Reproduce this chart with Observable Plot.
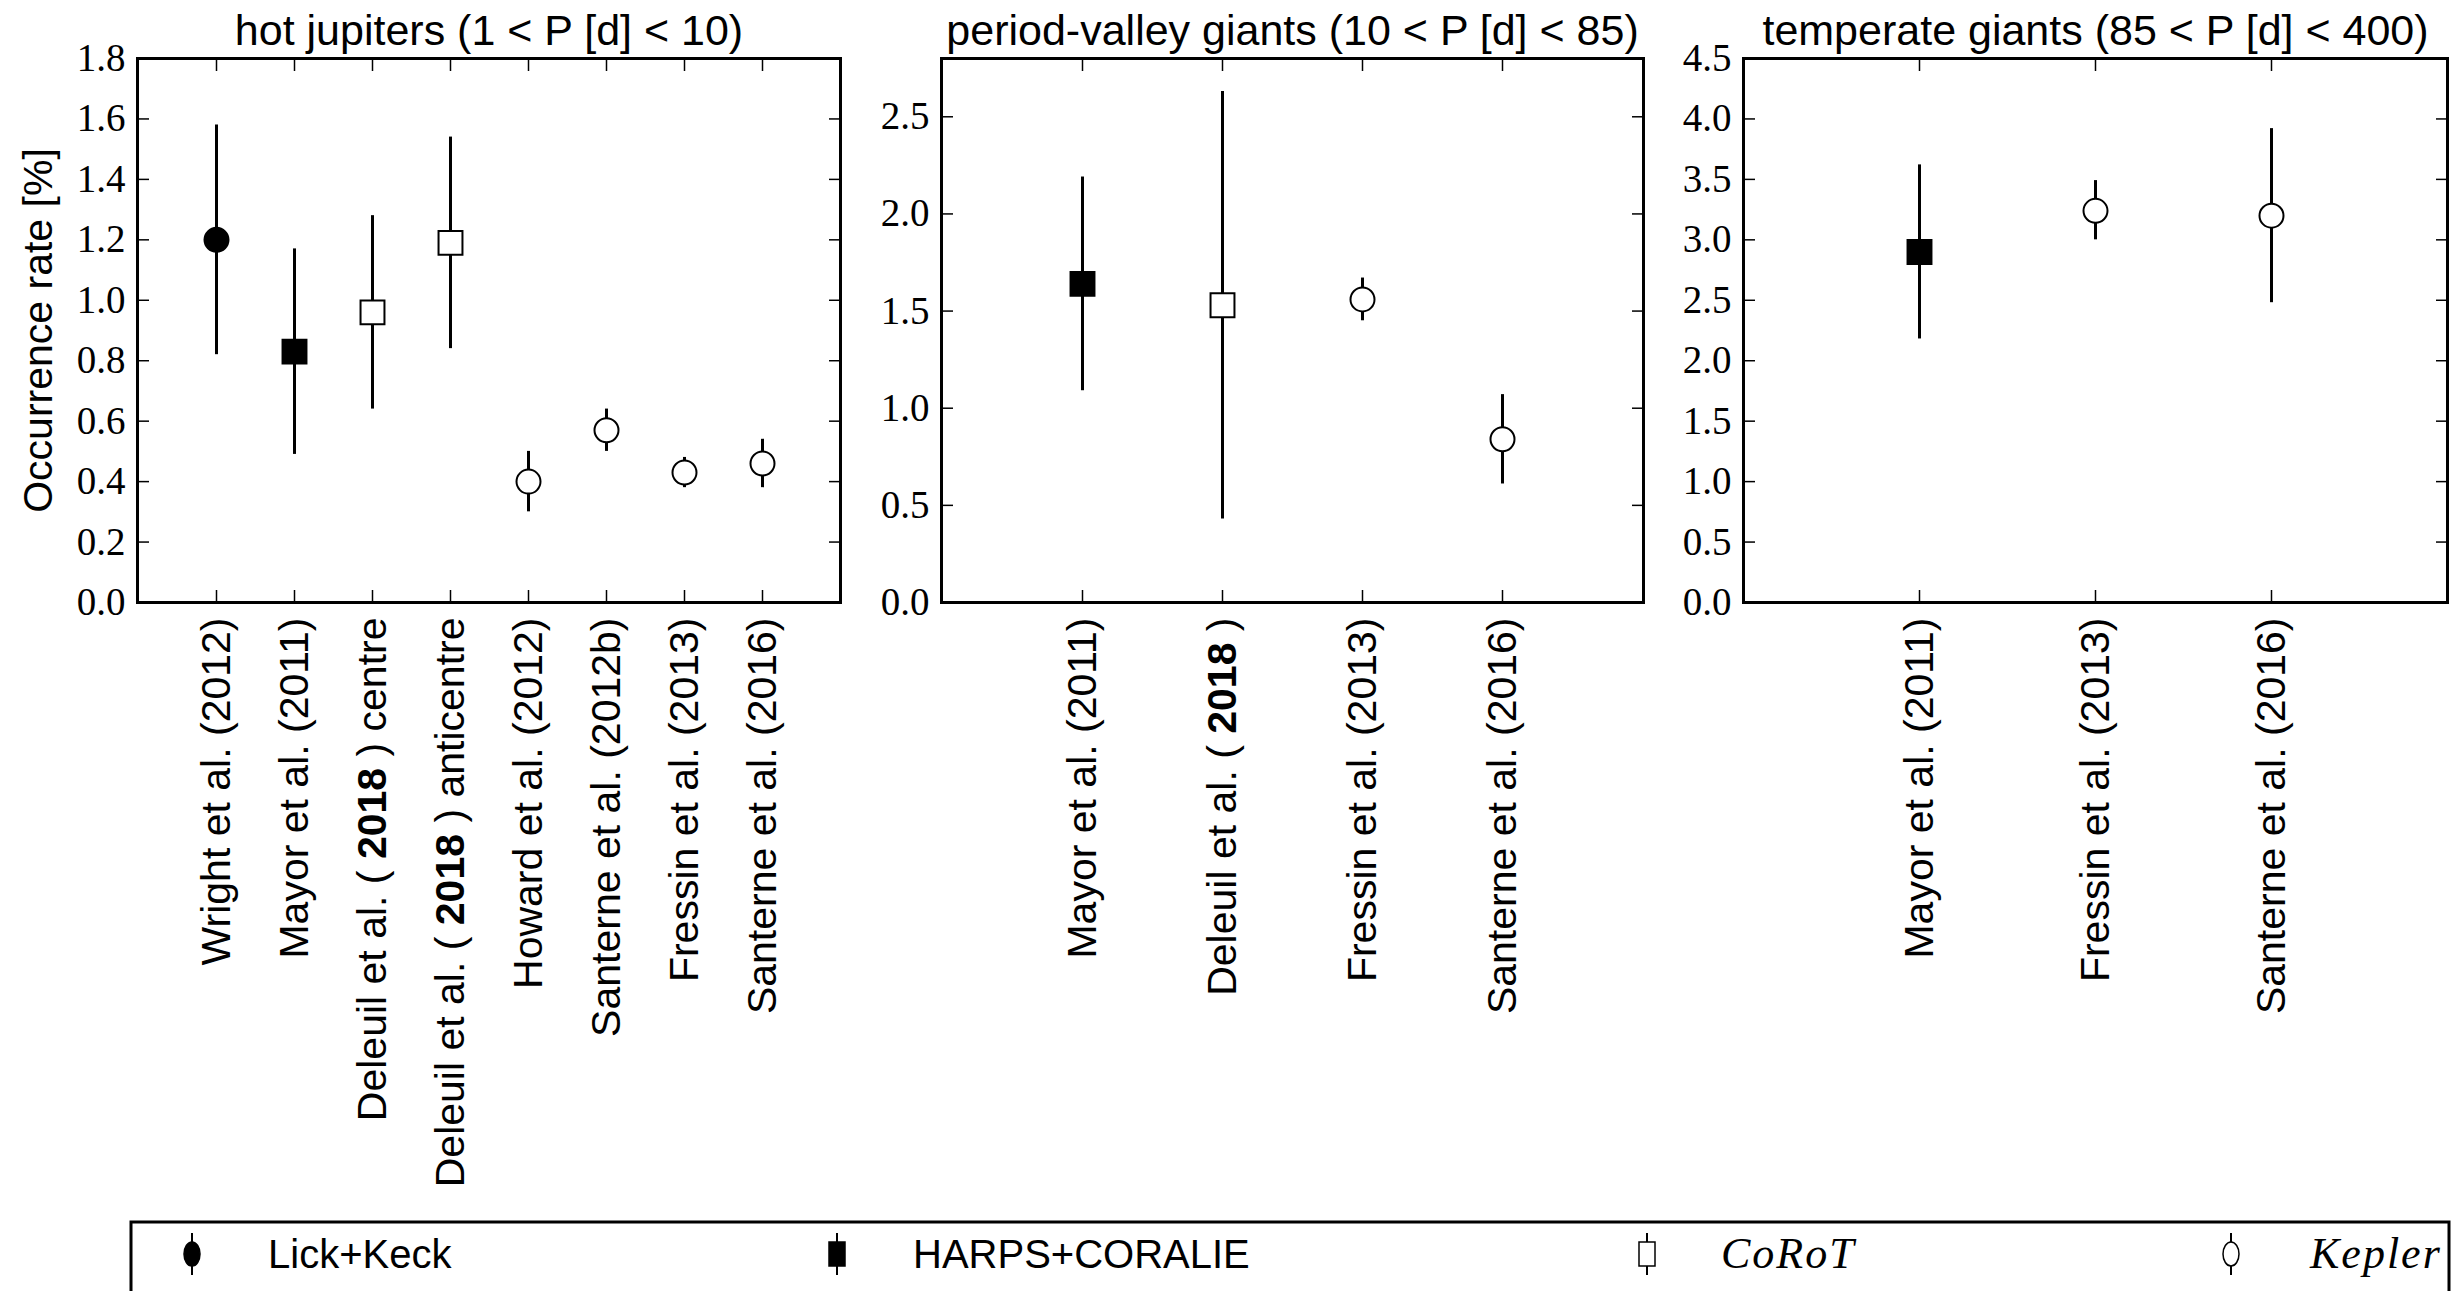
<!DOCTYPE html>
<html><head><meta charset="utf-8">
<script src="https://cdn.jsdelivr.net/npm/d3@7"></script>
<script src="https://cdn.jsdelivr.net/npm/@observablehq/plot@0.6"></script>
<style>
body{margin:0;background:#fff;}
#wrap{position:relative;width:2457px;height:1291px;overflow:hidden;background:#fff;}
#wrap > svg{position:absolute;top:0;margin:0;}
g[aria-label="y-axis tick label"]{font-family:"Liberation Serif","DejaVu Serif",serif;font-size:39px;}
</style></head><body><div id="wrap"></div>
<script>
// ---- data ----
const sources = ["Lick+Keck", "HARPS+CORALIE", "CoRoT", "Kepler"];
const sourceSymbol = ["circle", "square", "square", "circle"];
const sourceFill = ["black", "black", "white", "white"];

const hotTitle = "hot jupiters (1 < P [d] < 10)";
const hotLabels = ["Wright et al. (2012)", "Mayor et al. (2011)", "Deleuil et al. (2018) centre", "Deleuil et al. (2018) anticentre", "Howard et al. (2012)", "Santerne et al. (2012b)", "Fressin et al. (2013)", "Santerne et al. (2016)"];
const hotValues = [1.20, 0.83, 0.96, 1.19, 0.40, 0.57, 0.43, 0.46];
const hotLow    = [0.82, 0.49, 0.64, 0.84, 0.30, 0.50, 0.38, 0.38];
const hotHigh   = [1.58, 1.17, 1.28, 1.54, 0.50, 0.64, 0.48, 0.54];
const hotSource = ["Lick+Keck", "HARPS+CORALIE", "CoRoT", "CoRoT", "Kepler", "Kepler", "Kepler", "Kepler"];
const hotYTicks = [0, 0.2, 0.4, 0.6, 0.8, 1.0, 1.2, 1.4, 1.6, 1.8];

const pvTitle = "period-valley giants (10 < P [d] < 85)";
const pvLabels = ["Mayor et al. (2011)", "Deleuil et al. (2018)", "Fressin et al. (2013)", "Santerne et al. (2016)"];
const pvValues = [1.64, 1.53, 1.56, 0.84];
const pvLow    = [1.09, 0.43, 1.45, 0.61];
const pvHigh   = [2.19, 2.63, 1.67, 1.07];
const pvSource = ["HARPS+CORALIE", "CoRoT", "Kepler", "Kepler"];
const pvYTicks = [0, 0.5, 1.0, 1.5, 2.0, 2.5];

const tgTitle = "temperate giants (85 < P [d] < 400)";
const tgLabels = ["Mayor et al. (2011)", "Fressin et al. (2013)", "Santerne et al. (2016)"];
const tgValues = [2.90, 3.24, 3.20];
const tgLow    = [2.18, 3.00, 2.48];
const tgHigh   = [3.62, 3.49, 3.92];
const tgSource = ["HARPS+CORALIE", "Kepler", "Kepler"];
const tgYTicks = [0, 0.5, 1.0, 1.5, 2.0, 2.5, 3.0, 3.5, 4.0, 4.5];

const yLabel = "Occurrence rate [%]";

// ---- drawing ----
const wrap = document.getElementById("wrap");
const FRAME_TOP = 58, FRAME_BOTTOM = 602, H = 1200;

function panel({title, labels, values, lows, highs, src, yMax, yTicks, left, width, frameLeft, frameRight, label}) {
  const data = labels.map((l, i) => ({label: l, value: values[i], lo: lows[i], hi: highs[i], source: src[i]}));
  const si = d => sources.indexOf(d.source);
  const circles = data.filter(d => sourceSymbol[si(d)] === "circle");
  const squares = data.filter(d => sourceSymbol[si(d)] === "square");
  const chart = Plot.plot({
    width, height: H,
    marginLeft: frameLeft - left,
    marginRight: left + width - frameRight,
    marginTop: FRAME_TOP,
    marginBottom: H - FRAME_BOTTOM,
    style: {background: "transparent", fontFamily: "'Liberation Sans', Arial, sans-serif", fontSize: "41px", color: "black", overflow: "visible"},
    x: {type: "point", domain: labels, padding: 1, align: 0.5},
    y: {domain: [0, yMax]},
    marks: [
      Plot.axisY({anchor: "left", ticks: yTicks, tickSize: -12, tickPadding: 24, strokeWidth: 1.5,
        tickFormat: d3.format(".1f"), label: label ?? null, labelAnchor: "center", labelArrow: "none", labelOffset: 115}),
      Plot.axisY({anchor: "right", ticks: yTicks, tickSize: -12, strokeWidth: 1.5, tickFormat: () => "", label: null}),
      Plot.axisX({anchor: "bottom", tickSize: -12, tickPadding: 27, tickRotate: -90, strokeWidth: 1.5, label: null}),
      Plot.axisX({anchor: "top", tickSize: -12, strokeWidth: 1.5, tickFormat: () => "", label: null}),
      Plot.ruleX(data, {x: "label", y1: "lo", y2: "hi", stroke: "black", strokeWidth: 3}),
      Plot.dot(circles, {x: "label", y: "value", symbol: "circle", r: 12, stroke: "black", strokeWidth: 2,
        fill: d => sourceFill[si(d)]}),
      Plot.dot(squares, {x: "label", y: "value", symbol: "square", r: 13.5, stroke: "black", strokeWidth: 2,
        fill: d => sourceFill[si(d)]}),
      Plot.frame({stroke: "black", strokeWidth: 3}),
      Plot.text([title], {frameAnchor: "top", lineAnchor: "bottom", dy: -14, fontSize: 43, fill: "black"})
    ]
  });
  chart.style.left = left + "px";
  wrap.appendChild(chart);
}

panel({title: hotTitle, labels: hotLabels, values: hotValues, lows: hotLow, highs: hotHigh, src: hotSource,
  yMax: 1.8, yTicks: hotYTicks, left: 0, width: 880, frameLeft: 137, frameRight: 840, label: yLabel});
panel({title: pvTitle, labels: pvLabels, values: pvValues, lows: pvLow, highs: pvHigh, src: pvSource,
  yMax: 2.8, yTicks: pvYTicks, left: 870, width: 800, frameLeft: 941, frameRight: 1643});
panel({title: tgTitle, labels: tgLabels, values: tgValues, lows: tgLow, highs: tgHigh, src: tgSource,
  yMax: 4.5, yTicks: tgYTicks, left: 1675, width: 782, frameLeft: 1743, frameRight: 2447});

// bold year in the Deleuil labels, as in the reference
wrap.querySelectorAll("text").forEach(t => {
  if (t.children.length === 0 && t.textContent.includes("(2018)")) {
    const [a, b] = t.textContent.split("(2018)");
    t.textContent = "";
    const ns = "http://www.w3.org/2000/svg";
    const s1 = document.createElementNS(ns, "tspan"); s1.textContent = a + "( ";
    const s2 = document.createElementNS(ns, "tspan"); s2.textContent = "2018"; s2.setAttribute("font-weight", "bold");
    const s3 = document.createElementNS(ns, "tspan"); s3.textContent = " )" + b;
    t.append(s1, s2, s3);
  }
});

// ---- legend ----
const legendX = [192, 837, 1647, 2231];
const legendTextX = [268, 913, 1721, 2310];
const lg = d3.create("svg").attr("width", 2457).attr("height", 100)
  .style("position", "absolute").style("left", "0px").style("top", "1191px");
lg.append("rect").attr("x", 131).attr("y", 31).attr("width", 2318).attr("height", 200)
  .attr("fill", "none").attr("stroke", "black").attr("stroke-width", 3);
sources.forEach((s, i) => {
  const cx = legendX[i], cy = 63;
  lg.append("line").attr("x1", cx).attr("x2", cx).attr("y1", cy - 21).attr("y2", cy + 21)
    .attr("stroke", "black").attr("stroke-width", 2);
  if (sourceSymbol[i] === "circle") {
    lg.append("ellipse").attr("cx", cx).attr("cy", cy).attr("rx", 8).attr("ry", 12)
      .attr("fill", sourceFill[i]).attr("stroke", "black").attr("stroke-width", 1.5);
  } else {
    lg.append("rect").attr("x", cx - 8).attr("y", cy - 12).attr("width", 16).attr("height", 24)
      .attr("fill", sourceFill[i]).attr("stroke", "black").attr("stroke-width", 1.5);
  }
  const italic = i >= 2;
  lg.append("text").attr("x", legendTextX[i]).attr("y", 77).text(s)
    .attr("font-family", italic ? "'Liberation Serif', serif" : "'Liberation Sans', Arial, sans-serif")
    .attr("font-style", italic ? "italic" : "normal")
    .attr("letter-spacing", italic ? 2 : 0)
    .attr("font-size", italic ? 44 : 40).attr("fill", "black");
});
wrap.appendChild(lg.node());
</script>
</body></html>
